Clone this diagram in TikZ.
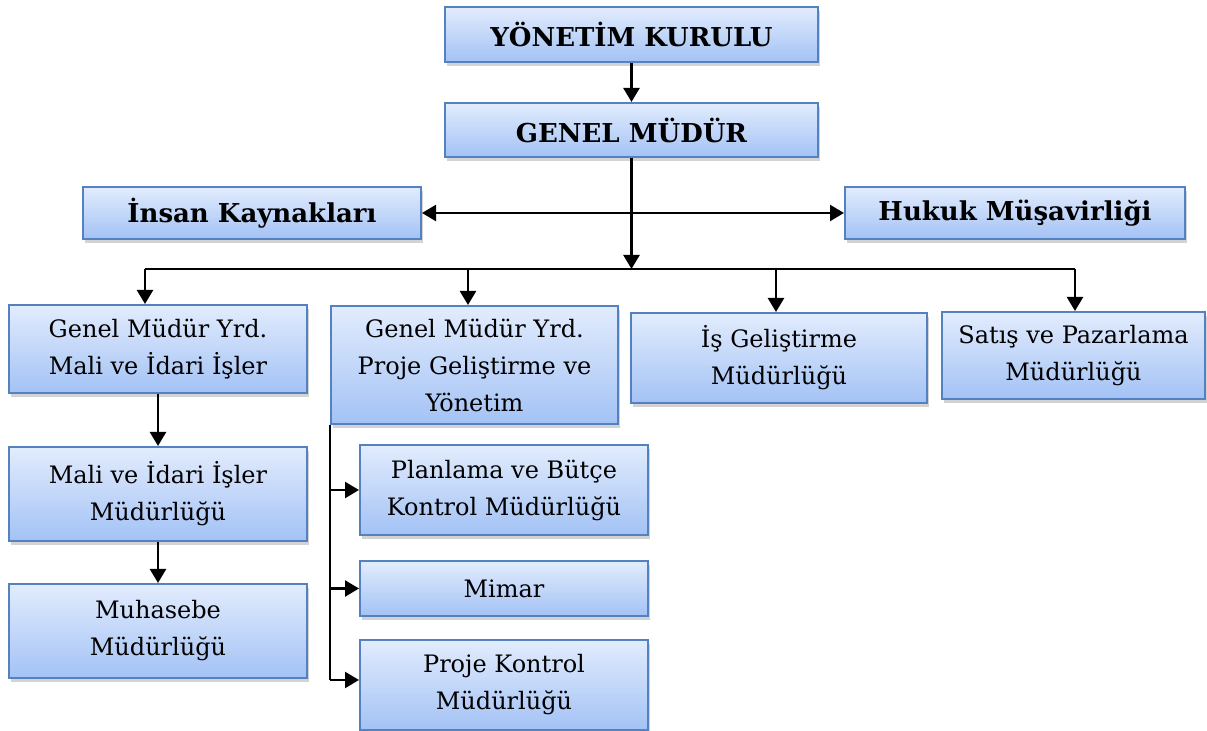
\documentclass[tikz,border=0pt]{standalone}
\usepackage{fontspec}
\setmainfont{DejaVu Serif}
\usetikzlibrary{shadows,arrows.meta}
\definecolor{boxtop}{RGB}{226,236,253}
\definecolor{boxbottom}{RGB}{163,194,245}
\definecolor{boxline}{RGB}{84,130,192}
\tikzstyle{unit}=[draw=boxline, line width=1pt, top color=boxtop, bottom color=boxbottom, drop shadow={shadow xshift=1pt, shadow yshift=-1.8pt, opacity=0.35}, align=center, inner sep=0pt, font=\fontsize{12}{18.5}\selectfont]
\tikzstyle{head}=[unit, font=\fontsize{13}{15}\selectfont\bfseries]
\tikzstyle{link}=[-{Triangle[length=7pt,width=8pt]}, line width=1.15pt, black]
\tikzstyle{both}=[{Triangle[length=7pt,width=8pt]}-{Triangle[length=7pt,width=8pt]}, line width=1.15pt, black]

\begin{document}
\begin{tikzpicture}[x=0.5pt, y=-0.5pt]
\useasboundingbox (0,0) rectangle (1207,731);
% Top
    \node[head, minimum width=186.5pt, minimum height=27.5pt] (yk) at (631.5,34.5) {YÖNETİM KURULU};
    \node[head, minimum width=186.5pt, minimum height=27pt] (gm) at (631.5,130) {GENEL MÜDÜR};
    \node[head, minimum width=169pt, minimum height=26pt] (ik) at (252,213) {İnsan Kaynakları};
    \node[head, minimum width=170pt, minimum height=26pt] (hm) at (1015,213) {Hukuk Müşavirliği};
% Second level
    \node[unit, minimum width=149pt, minimum height=44pt] (gmy1) at (158,349) {Genel Müdür Yrd.\\Mali ve İdari İşler};
    \node[unit, minimum width=143.5pt, minimum height=59pt] (gmy2) at (474.5,365) {Genel Müdür Yrd.\\Proje Geliştirme ve\\Yönetim};
    \node[unit, minimum width=148pt, minimum height=45pt] (isg) at (779,358) {İş Geliştirme\\Müdürlüğü};
    \node[unit, minimum width=131.5pt, minimum height=43.5pt] (sp) at (1073.5,355.5) {Satış ve Pazarlama\\Müdürlüğü};
% Third level
    \node[unit, minimum width=149pt, minimum height=47pt] (mim) at (158,494) {Mali ve İdari İşler\\Müdürlüğü};
    \node[unit, minimum width=149pt, minimum height=47pt] (muh) at (158,631) {Muhasebe\\Müdürlüğü};
    \node[unit, minimum width=144pt, minimum height=45pt] (plan) at (504,490) {Planlama ve Bütçe\\Kontrol Müdürlüğü};
    \node[unit, minimum width=144pt, minimum height=27.5pt] (mimar) at (504,588.5) {Mimar};
    \node[unit, minimum width=144pt, minimum height=45pt] (proje) at (504,685) {Proje Kontrol\\Müdürlüğü};
% Bus
    \coordinate (busl) at (145,269);
    \coordinate (bus2) at (468,269);
    \coordinate (busm) at (631.5,269);
    \coordinate (bus3) at (776,269);
    \coordinate (busr) at (1075,269);
    \coordinate (stem) at (330,680);
% Arrows
    \draw[link] (yk) -- (gm);
    \draw[link] (gm) -- (busm);
    \draw[both] (ik) -- (hm);
    \draw[line width=1.15pt] (busl) -- (busr);
    \draw[link] (busl) -- (busl |- gmy1.north);
    \draw[link] (bus2) -- (bus2 |- gmy2.north);
    \draw[link] (bus3) -- (bus3 |- isg.north);
    \draw[link] (busr) -- (busr |- sp.north);
    \draw[link] (gmy1) -- (mim);
    \draw[link] (mim) -- (muh);
    \draw[line width=1.15pt] (gmy2.south west) -- (stem);
    \draw[link] (stem |- plan.west) -- (plan.west);
    \draw[link] (stem |- mimar.west) -- (mimar.west);
    \draw[link] (stem) -- (stem -| proje.west);
\end{tikzpicture}
\end{document}
